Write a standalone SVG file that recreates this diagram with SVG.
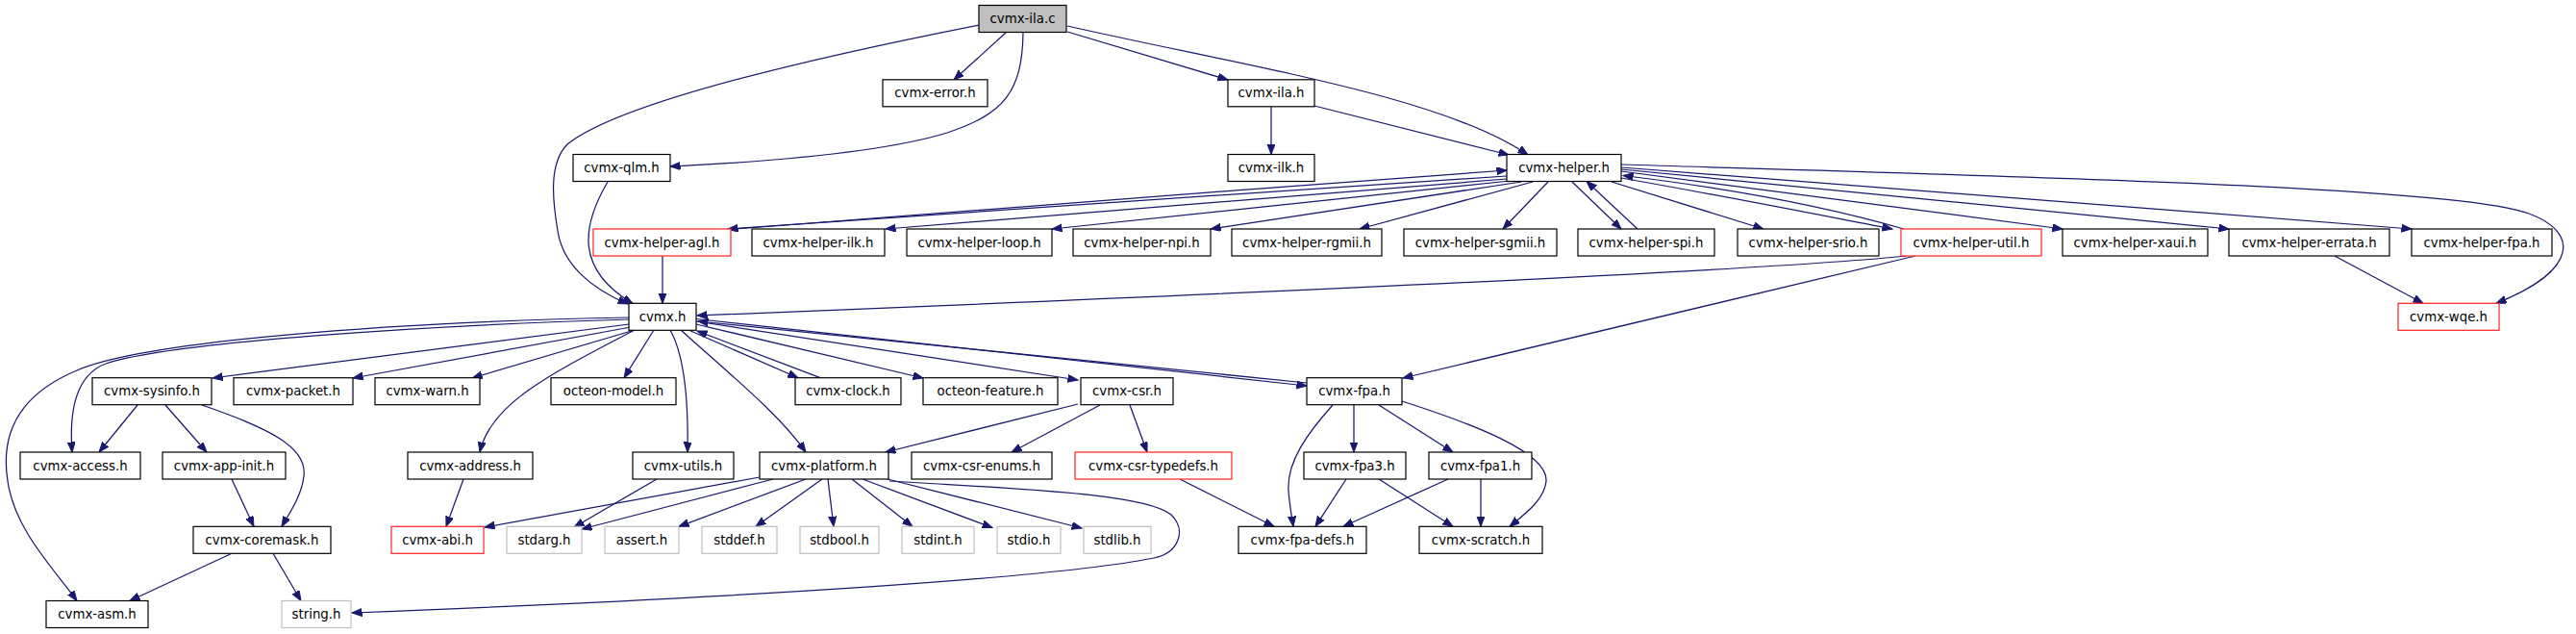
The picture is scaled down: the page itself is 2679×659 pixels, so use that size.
<svg xmlns="http://www.w3.org/2000/svg" width="2679" height="659" viewBox="0 0 2679 659">
<style>
.n rect{fill:#fff;stroke:#000;stroke-width:1.2}
.n.r rect{stroke:#ff2020}
.n.g rect{stroke:#bfbfbf}
.n.s rect{fill:#bfbfbf}
.n text{font-family:"DejaVu Sans",sans-serif;font-size:13.3px;text-anchor:middle;fill:#000}
#edges path{fill:none;stroke:#191970;stroke-width:1.25;marker-end:url(#a)}
</style>
<defs>
<marker id="a" markerUnits="userSpaceOnUse" markerWidth="12" markerHeight="10" refX="10.5" refY="4" orient="auto">
<path d="M0,0 L10.5,4 L0,8 z" fill="#191970" stroke="#191970" stroke-width="1"/>
</marker>
</defs>
<rect width="2679" height="659" fill="#fff"/>
<g id="edges">
<path d="M1046,34 L992,83"/>
<path d="M1064,34 C1063,95 1045,118 985,138 C920,158 800,168 697,173"/>
<path d="M1110,33 L1277,83"/>
<path d="M1110,27 C1300,70 1500,100 1589,161"/>
<path d="M1018,26 C820,65 640,110 590,150 C570,170 575,210 580,240 C585,275 615,300 653,316"/>
<path d="M1322,111 L1322,160.5"/>
<path d="M1367,110 L1569,161"/>
<path d="M632,189 C605,235 598,280 658,315.5"/>
<path d="M1567,183 C1300,200 1000,222 757,238"/>
<path d="M765,238 C1000,220 1300,196 1567,177"/>
<path d="M1567,186 L921,238"/>
<path d="M1570,188 L1094,238"/>
<path d="M1582,189 L1259,238"/>
<path d="M1594,189 L1414,238"/>
<path d="M1610,189 L1563,238"/>
<path d="M1635,189 L1686,238"/>
<path d="M1703,238 L1650,188.5"/>
<path d="M1676,189 L1834,238"/>
<path d="M1686,185 C1800,205 1900,225 1968,238"/>
<path d="M1980,238 C1900,215 1800,196 1688,182.5"/>
<path d="M1686,178 L2145,238"/>
<path d="M1686,176 L2318,238"/>
<path d="M1686,174 L2508,238"/>
<path d="M1686,171 C2150,185 2560,195 2630,222 C2680,240 2685,280 2596,315.3"/>
<path d="M2428,266 L2520,315.3"/>
<path d="M1983,266 Q1800,285 725,328"/>
<path d="M1992,266 L1459,393"/>
<path d="M689,266 L689,315.3"/>
<path d="M654,337 L221,393"/>
<path d="M656,340 L367,393"/>
<path d="M660,343 L491,393"/>
<path d="M680,343 L649,392.7"/>
<path d="M654,332 C450,338 180,355 110,378 C78,390 72,430 75,470"/>
<path d="M654,330 C400,335 150,355 80,385 C20,410 0,450 8,500 C15,550 55,590 80,624.5"/>
<path d="M660,343 C570,390 510,420 499,470"/>
<path d="M697,343 C712,370 716,420 715,470"/>
<path d="M708,343 C760,390 810,430 838,470"/>
<path d="M716,343 L830,392.7"/>
<path d="M853,392.7 L725,344"/>
<path d="M724,337 L960,393"/>
<path d="M724,334 L1121,395"/>
<path d="M724,331.5 L1359,401"/>
<path d="M1359,398 L726,334"/>
<path d="M143,421 L103,470"/>
<path d="M172,421 L215,470"/>
<path d="M210,421 C280,445 320,465 316,495 C314,515 300,535 293,547.3"/>
<path d="M241,498 L264,547.3"/>
<path d="M241,575.3 L135,624.5"/>
<path d="M284,575.3 L313,624.5"/>
<path d="M482,498 L464,547.3"/>
<path d="M683,498 L597,548"/>
<path d="M790,496 L504,548"/>
<path d="M804,498 L605,550"/>
<path d="M838,498 L706,547.3"/>
<path d="M855,498 L786,547.3"/>
<path d="M861,498 L867,547.3"/>
<path d="M886,498 L949,547.3"/>
<path d="M897,498 L1032,548.5"/>
<path d="M923,498 L1125,549"/>
<path d="M925,500 C1050,508 1190,512 1218,535 C1235,552 1225,575 1200,580 C1100,600 800,620 366,637"/>
<path d="M1121,420 L921,470"/>
<path d="M1144,421 L1052,470"/>
<path d="M1175,421 L1193,470"/>
<path d="M1227,498 L1325,547.3"/>
<path d="M1386,421 C1360,450 1338,480 1340,510 C1341,525 1344,540 1345,547.3"/>
<path d="M1408,421 L1408,470"/>
<path d="M1434,421 L1511,470"/>
<path d="M1458,417 C1530,440 1610,470 1608,500 C1606,520 1585,535 1570,547.3"/>
<path d="M1400,498 L1368,547.3"/>
<path d="M1434,498 L1511,547.3"/>
<path d="M1506,498 L1397,547.3"/>
<path d="M1540,498 L1540,547.3"/>
</g>
<g id="ila_c" class="n s"><rect x="1018" y="5.5" width="91" height="28"/><text x="1063.5" y="24">cvmx-ila.c</text></g>
<g id="error" class="n"><rect x="918" y="82.8" width="109" height="28"/><text x="972.5" y="101.3">cvmx-error.h</text></g>
<g id="ila_h" class="n"><rect x="1277" y="82.8" width="90" height="28"/><text x="1322" y="101.3">cvmx-ila.h</text></g>
<g id="qlm" class="n"><rect x="596" y="160.5" width="101" height="28"/><text x="646.5" y="179">cvmx-qlm.h</text></g>
<g id="ilk" class="n"><rect x="1277" y="160.5" width="90" height="28"/><text x="1322" y="179">cvmx-ilk.h</text></g>
<g id="helper" class="n"><rect x="1567" y="160.5" width="119" height="28"/><text x="1626.5" y="179">cvmx-helper.h</text></g>
<g id="agl" class="n r"><rect x="617" y="238" width="143" height="28"/><text x="688.5" y="256.5">cvmx-helper-agl.h</text></g>
<g id="h_ilk" class="n"><rect x="782" y="238" width="138" height="28"/><text x="851" y="256.5">cvmx-helper-ilk.h</text></g>
<g id="loop" class="n"><rect x="943" y="238" width="151" height="28"/><text x="1018.5" y="256.5">cvmx-helper-loop.h</text></g>
<g id="npi" class="n"><rect x="1116" y="238" width="143" height="28"/><text x="1187.5" y="256.5">cvmx-helper-npi.h</text></g>
<g id="rgmii" class="n"><rect x="1281" y="238" width="156" height="28"/><text x="1359" y="256.5">cvmx-helper-rgmii.h</text></g>
<g id="sgmii" class="n"><rect x="1460" y="238" width="159" height="28"/><text x="1539.5" y="256.5">cvmx-helper-sgmii.h</text></g>
<g id="spi" class="n"><rect x="1641" y="238" width="142" height="28"/><text x="1712" y="256.5">cvmx-helper-spi.h</text></g>
<g id="srio" class="n"><rect x="1807" y="238" width="147" height="28"/><text x="1880.5" y="256.5">cvmx-helper-srio.h</text></g>
<g id="util" class="n r"><rect x="1977" y="238" width="146" height="28"/><text x="2050" y="256.5">cvmx-helper-util.h</text></g>
<g id="xaui" class="n"><rect x="2145" y="238" width="151" height="28"/><text x="2220.5" y="256.5">cvmx-helper-xaui.h</text></g>
<g id="errata" class="n"><rect x="2318" y="238" width="167" height="28"/><text x="2401.5" y="256.5">cvmx-helper-errata.h</text></g>
<g id="hfpa" class="n"><rect x="2508" y="238" width="146" height="28"/><text x="2581" y="256.5">cvmx-helper-fpa.h</text></g>
<g id="cvmx" class="n"><rect x="654" y="315.3" width="70" height="28"/><text x="689" y="333.8">cvmx.h</text></g>
<g id="wqe" class="n r"><rect x="2494" y="315.3" width="105" height="28"/><text x="2546.5" y="333.8">cvmx-wqe.h</text></g>
<g id="sysinfo" class="n"><rect x="96" y="392.7" width="124" height="28"/><text x="158" y="411.2">cvmx-sysinfo.h</text></g>
<g id="packet" class="n"><rect x="243" y="392.7" width="124" height="28"/><text x="305" y="411.2">cvmx-packet.h</text></g>
<g id="warn" class="n"><rect x="390" y="392.7" width="109" height="28"/><text x="444.5" y="411.2">cvmx-warn.h</text></g>
<g id="model" class="n"><rect x="573" y="392.7" width="130" height="28"/><text x="638" y="411.2">octeon-model.h</text></g>
<g id="clock" class="n"><rect x="827" y="392.7" width="110" height="28"/><text x="882" y="411.2">cvmx-clock.h</text></g>
<g id="feature" class="n"><rect x="960" y="392.7" width="140" height="28"/><text x="1030" y="411.2">octeon-feature.h</text></g>
<g id="csr" class="n"><rect x="1124" y="392.7" width="96" height="28"/><text x="1172" y="411.2">cvmx-csr.h</text></g>
<g id="fpa" class="n"><rect x="1359" y="392.7" width="99" height="28"/><text x="1408.5" y="411.2">cvmx-fpa.h</text></g>
<g id="access" class="n"><rect x="21" y="470" width="125" height="28"/><text x="83.5" y="488.5">cvmx-access.h</text></g>
<g id="appinit" class="n"><rect x="169" y="470" width="128" height="28"/><text x="233" y="488.5">cvmx-app-init.h</text></g>
<g id="address" class="n"><rect x="424" y="470" width="130" height="28"/><text x="489" y="488.5">cvmx-address.h</text></g>
<g id="utils" class="n"><rect x="658" y="470" width="105" height="28"/><text x="710.5" y="488.5">cvmx-utils.h</text></g>
<g id="platform" class="n"><rect x="790" y="470" width="134" height="28"/><text x="857" y="488.5">cvmx-platform.h</text></g>
<g id="enums" class="n"><rect x="948" y="470" width="146" height="28"/><text x="1021" y="488.5">cvmx-csr-enums.h</text></g>
<g id="typedefs" class="n r"><rect x="1118" y="470" width="163" height="28"/><text x="1199.5" y="488.5">cvmx-csr-typedefs.h</text></g>
<g id="fpa3" class="n"><rect x="1356" y="470" width="106" height="28"/><text x="1409" y="488.5">cvmx-fpa3.h</text></g>
<g id="fpa1" class="n"><rect x="1486" y="470" width="107" height="28"/><text x="1539.5" y="488.5">cvmx-fpa1.h</text></g>
<g id="coremask" class="n"><rect x="201" y="547.3" width="143" height="28"/><text x="272.5" y="565.8">cvmx-coremask.h</text></g>
<g id="abi" class="n r"><rect x="407" y="547.3" width="96" height="28"/><text x="455" y="565.8">cvmx-abi.h</text></g>
<g id="stdarg" class="n g"><rect x="527" y="547.3" width="78" height="28"/><text x="566" y="565.8">stdarg.h</text></g>
<g id="assert" class="n g"><rect x="629" y="547.3" width="77" height="28"/><text x="667.5" y="565.8">assert.h</text></g>
<g id="stddef" class="n g"><rect x="730" y="547.3" width="78" height="28"/><text x="769" y="565.8">stddef.h</text></g>
<g id="stdbool" class="n g"><rect x="832" y="547.3" width="82" height="28"/><text x="873" y="565.8">stdbool.h</text></g>
<g id="stdint" class="n g"><rect x="938" y="547.3" width="75" height="28"/><text x="975.5" y="565.8">stdint.h</text></g>
<g id="stdio" class="n g"><rect x="1037" y="547.3" width="66" height="28"/><text x="1070" y="565.8">stdio.h</text></g>
<g id="stdlib" class="n g"><rect x="1127" y="547.3" width="70" height="28"/><text x="1162" y="565.8">stdlib.h</text></g>
<g id="fpadefs" class="n"><rect x="1288" y="547.3" width="133" height="28"/><text x="1354.5" y="565.8">cvmx-fpa-defs.h</text></g>
<g id="scratch" class="n"><rect x="1476" y="547.3" width="128" height="28"/><text x="1540" y="565.8">cvmx-scratch.h</text></g>
<g id="asm" class="n"><rect x="48" y="624.5" width="106" height="28"/><text x="101" y="643">cvmx-asm.h</text></g>
<g id="string" class="n g"><rect x="293" y="624.5" width="72" height="28"/><text x="329" y="643">string.h</text></g>
</svg>
